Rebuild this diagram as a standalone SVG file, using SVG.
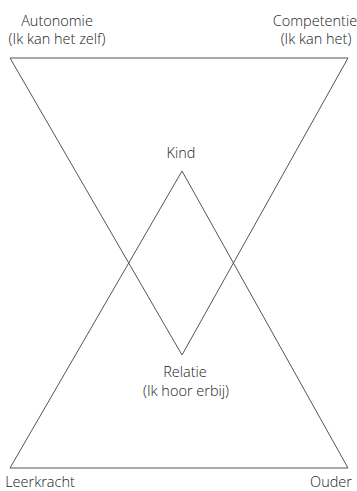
<svg xmlns="http://www.w3.org/2000/svg" width="357" height="491" viewBox="0 0 357 491">
<style>
.t{font-family:"Open Sans","Noto Sans",sans-serif;font-size:14.5px;font-weight:300;fill:#222;text-anchor:middle}
.e{fill:none;stroke:#555;stroke-width:1}
</style>
<rect width="357" height="491" fill="#fff"/>
<g id="connectors">
<polygon class="e" points="10,58 348,58 182,355"/>
<polygon class="e" points="182,171 10,468 348,468"/>
</g>
<g id="autonomie"><text class="t" x="57" y="26">Autonomie</text><text class="t" x="57" y="44">(Ik kan het zelf)</text></g>
<g id="competentie"><text class="t" x="315" y="26">Competentie</text><text class="t" x="316" y="44">(Ik kan het)</text></g>
<g id="kind"><text class="t" x="181" y="158">Kind</text></g>
<g id="relatie"><text class="t" x="185" y="377">Relatie</text><text class="t" x="186" y="396">(Ik hoor erbij)</text></g>
<g id="leerkracht"><text class="t" x="40" y="487">Leerkracht</text></g>
<g id="ouder"><text class="t" x="331" y="487">Ouder</text></g>
</svg>
